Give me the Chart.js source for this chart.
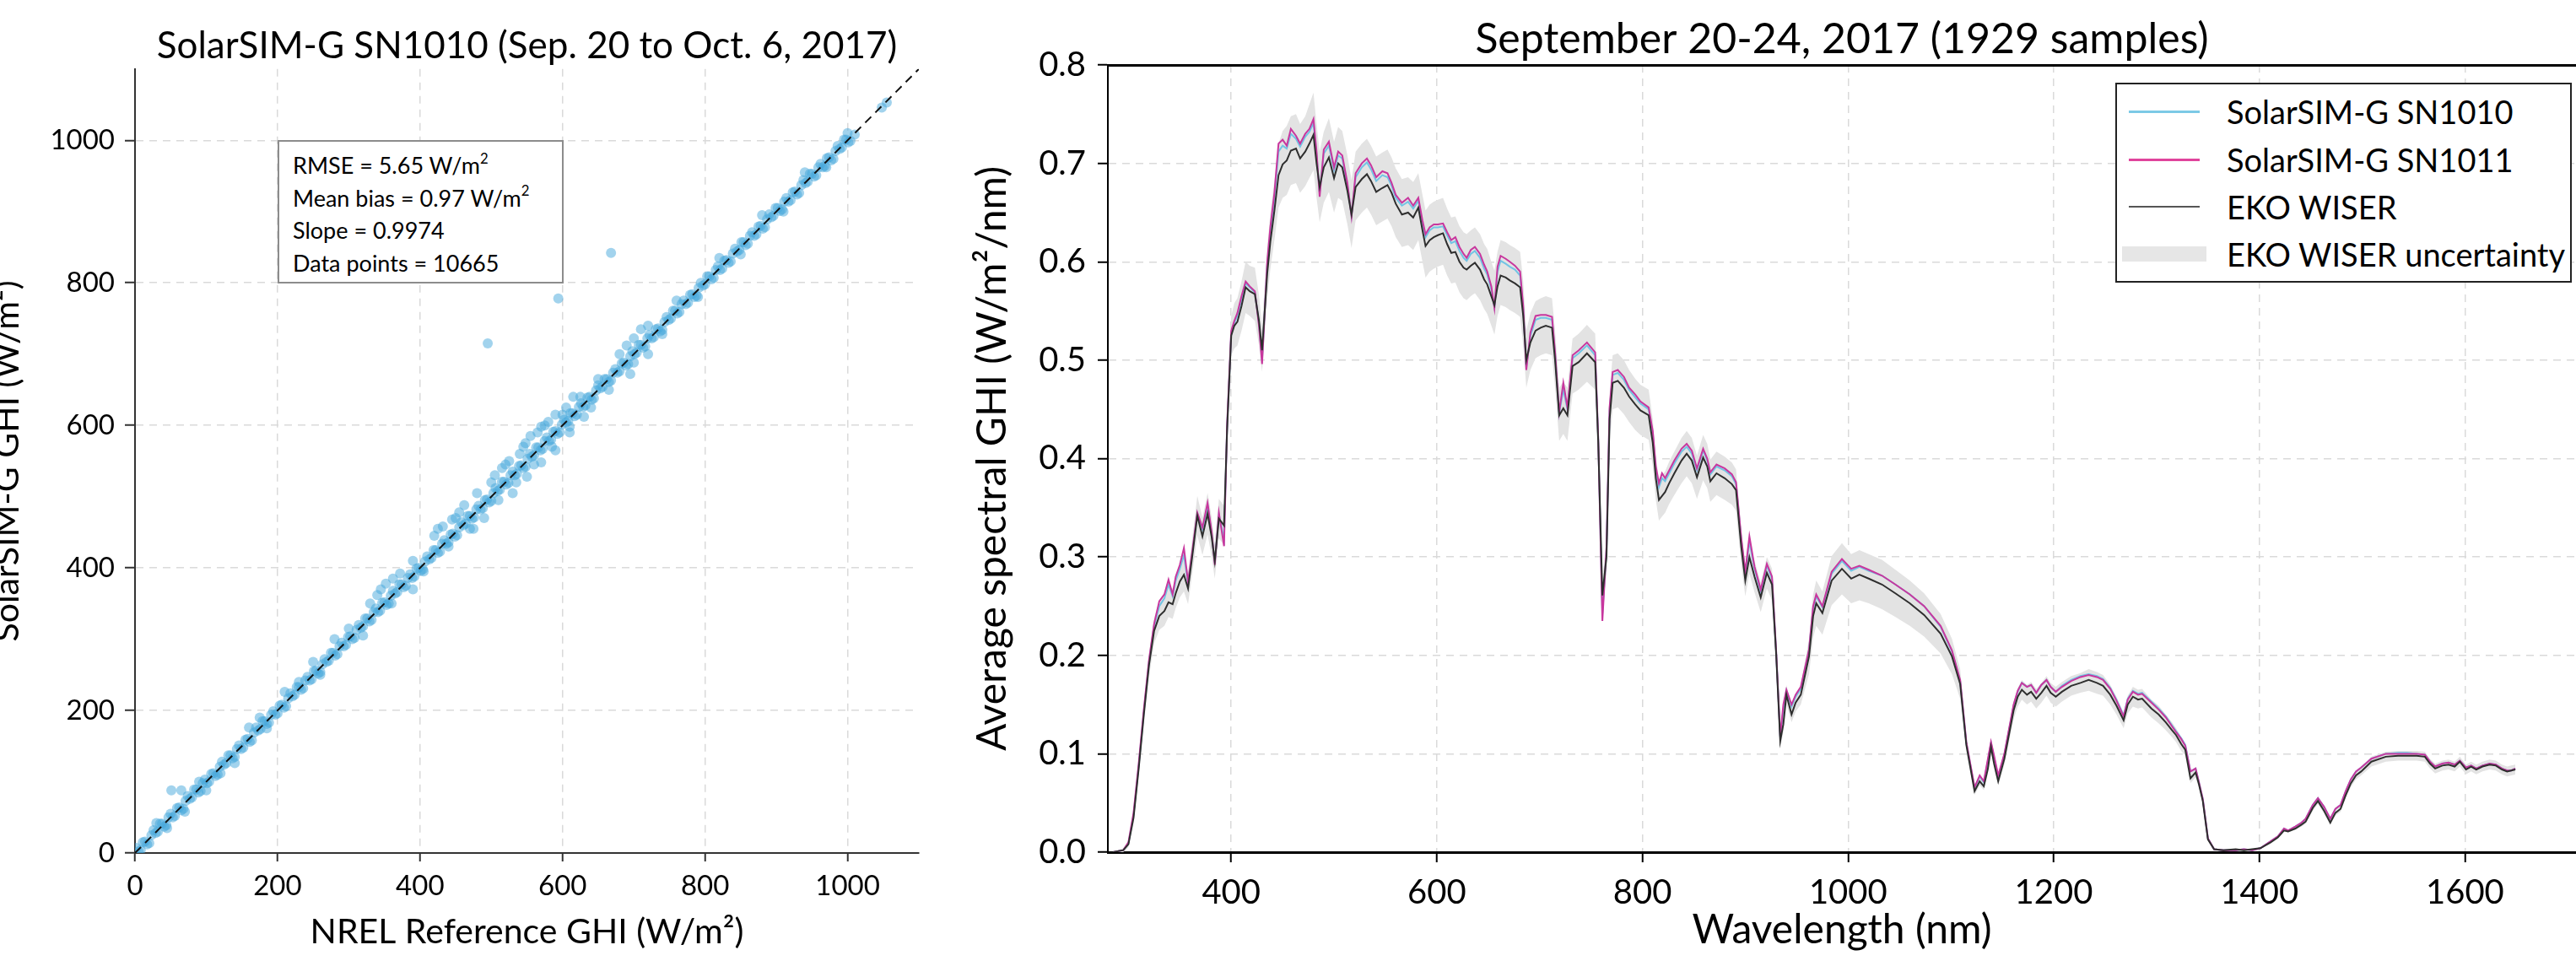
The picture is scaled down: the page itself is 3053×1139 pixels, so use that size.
<!DOCTYPE html>
<html lang="en">
<head>
    <meta charset="UTF-8">
    <title>SolarSIM-G vs NREL / EKO WISER</title>
    <script src="https://cdn.jsdelivr.net/npm/chart.js"></script>
    <style>
        html, body { margin: 0; padding: 0; background: #fff; }
        body { width: 3053px; height: 1139px; position: relative; overflow: hidden; font-family: Lato, "Open Sans", sans-serif; color: #000; }
        #scatterChart { position: absolute; left: -16px; top: 0; }
        #spectrumChart { position: absolute; left: 1100px; top: 0; }
        .stats { position: absolute; left: 329px; top: 166px; width: 339px; height: 170px; box-sizing: border-box;
                 border: 2px solid #8c8c8c; background: #fff; padding: 9px 0 0 16px; font-size: 27px; line-height: 38.5px; white-space: nowrap; }
        .stats sup { font-size: 62%; line-height: 0; position: relative; top: -0.15em; vertical-align: super; }
        .legend { position: absolute; left: 2507px; top: 98px; width: 541px; height: 237px; box-sizing: border-box;
                  border: 2px solid #222; background: #fff; }
        .legend .row { position: absolute; left: 0; height: 50px; display: flex; align-items: center; }
        .legend .swatch { position: absolute; left: 14px; width: 84px; height: 0; }
        .legend .box { position: absolute; left: 6px; width: 100px; height: 18px; background: #e6e6e6; }
        .legend .label { position: absolute; left: 130px; font-size: 38px; line-height: 50px; white-space: nowrap; }
    </style>
</head>
<body>
    <canvas id="scatterChart" width="1116" height="1139"></canvas>
    <canvas id="spectrumChart" width="1953" height="1139"></canvas>

    <!-- stats box in the scatter panel -->
    <div class="stats">
        RMSE = 5.65 W/m<sup>2</sup><br>
        Mean bias = 0.97 W/m<sup>2</sup><br>
        Slope = 0.9974<br>
        Data points = 10665
    </div>

    <!-- legend of the spectrum panel -->
    <div class="legend">
        <div class="row" style="top:7px"><span class="swatch" style="border-top:3px solid #7cc9e6"></span><span class="label">SolarSIM-G SN1010</span></div>
        <div class="row" style="top:64px"><span class="swatch" style="border-top:3px solid #e0449c"></span><span class="label">SolarSIM-G SN1011</span></div>
        <div class="row" style="top:120px"><span class="swatch" style="border-top:2px solid #555"></span><span class="label">EKO WISER</span></div>
        <div class="row" style="top:176px"><span class="box"></span><span class="label">EKO WISER uncertainty</span></div>
    </div>

    <script>
        // ---- scatter panel: NREL reference GHI vs SolarSIM-G SN1010 GHI (W/m2) ----
        const bandRef = [2, 8, 14, 20, 26, 32, 38, 44, 50, 56, 62, 68, 74, 80, 86, 92, 98, 104, 110, 116,
            122, 128, 134, 140, 146, 152, 158, 164, 170, 176, 182, 188, 194, 200, 206, 212, 218, 224, 230, 236,
            242, 248, 254, 260, 266, 272, 278, 284, 290, 296, 302, 308, 314, 320, 326, 332, 338, 344, 350, 356,
            362, 368, 374, 380, 386, 392, 398, 404, 410, 416, 422, 428, 434, 440, 446, 452, 458, 464, 470, 476,
            482, 488, 494, 500, 506, 512, 518, 524, 530, 536, 542, 548, 554, 560, 566, 572, 578, 584, 590, 596,
            602, 608, 614, 620, 626, 632, 638, 644, 650, 656, 662, 668, 674, 680, 686, 692, 698, 704, 710, 716,
            722, 728, 734, 740, 746, 752, 758, 764, 770, 776, 782, 788, 794, 800, 806, 812, 818, 824, 830, 836,
            842, 848, 854, 860, 866, 872, 878, 884, 890, 896, 902, 908, 914, 920, 926, 932, 938, 944, 950, 956,
            962, 968, 974, 980, 986, 992, 998, 1004];
        const bandSim = [7, 4, 16, 14, 32, 30, 41, 39, 55, 52, 64, 62, 80, 78, 89, 87, 103, 100, 112, 110,
            128, 126, 137, 135, 151, 148, 160, 158, 176, 174, 185, 183, 199, 196, 208, 206, 224, 222, 233, 231,
            247, 244, 256, 254, 272, 270, 281, 279, 295, 292, 304, 302, 320, 318, 329, 327, 343, 340, 352, 350,
            368, 366, 377, 375, 391, 388, 400, 398, 416, 414, 425, 423, 439, 436, 448, 446, 464, 462, 473, 471,
            487, 484, 496, 494, 512, 510, 521, 519, 535, 532, 544, 542, 560, 558, 569, 567, 583, 580, 592, 590,
            608, 606, 617, 615, 631, 628, 640, 638, 656, 654, 665, 663, 679, 676, 688, 686, 704, 702, 713, 711,
            727, 724, 736, 734, 752, 750, 761, 759, 775, 772, 784, 782, 800, 798, 809, 807, 823, 820, 832, 830,
            848, 846, 857, 855, 871, 868, 880, 878, 896, 894, 905, 903, 919, 916, 928, 926, 944, 942, 953, 951,
            967, 964, 976, 974, 992, 990, 1001, 999];
        const bandRef2 = [5, 11, 17, 23, 29, 35, 41, 47, 53, 59, 65, 71, 77, 83, 89, 95, 101, 107, 113, 119,
            125, 131, 137, 143, 149, 155, 161, 167, 173, 179, 185, 191, 197, 203, 209, 215, 221, 227, 233, 239,
            245, 251, 257, 263, 269, 275, 281, 287, 293, 299, 305, 311, 317, 323, 329, 335, 341, 347, 353, 359,
            365, 371, 377, 383, 389, 395, 401, 407, 413, 419, 425, 431, 437, 443, 449, 455, 461, 467, 473, 479,
            485, 491, 497, 503, 509, 515, 521, 527, 533, 539, 545, 551, 557, 563, 569, 575, 581, 587, 593, 599,
            605, 611, 617, 623, 629, 635, 641, 647, 653, 659, 665, 671, 677, 683, 689, 695, 701, 707, 713, 719,
            725, 731, 737, 743, 749, 755, 761, 767, 773, 779, 785, 791, 797, 803, 809, 815, 821, 827, 833, 839,
            845, 851, 857, 863, 869, 875, 881, 887, 893, 899, 905, 911, 917, 923, 929, 935, 941, 947, 953, 959,
            965, 971, 977, 983, 989, 995, 1001];
        const bandSim2 = [2, 15, 12, 25, 28, 41, 37, 50, 50, 63, 60, 73, 76, 89, 85, 98, 98, 111, 108, 121,
            124, 137, 133, 146, 146, 159, 156, 169, 172, 185, 181, 194, 194, 207, 204, 217, 220, 233, 229, 242,
            242, 255, 252, 265, 268, 281, 277, 290, 290, 303, 300, 313, 316, 329, 325, 338, 338, 351, 348, 361,
            364, 377, 373, 386, 386, 399, 396, 409, 412, 425, 421, 434, 434, 447, 444, 457, 460, 473, 469, 482,
            482, 495, 492, 505, 508, 521, 517, 530, 530, 543, 540, 553, 556, 569, 565, 578, 578, 591, 588, 601,
            604, 617, 613, 626, 626, 639, 636, 649, 652, 665, 661, 674, 674, 687, 684, 697, 700, 713, 709, 722,
            722, 735, 732, 745, 748, 761, 757, 770, 770, 783, 780, 793, 796, 809, 805, 818, 818, 831, 828, 841,
            844, 857, 853, 866, 866, 879, 876, 889, 892, 905, 901, 914, 914, 927, 924, 937, 940, 953, 949, 962,
            962, 975, 972, 985, 988, 1001, 997];
        const spreadRef = [30, 45, 51, 65, 90, 120, 175, 185, 230, 260, 300, 320, 345, 360, 390, 405, 425, 440, 450, 470,
            480, 495, 500, 510, 520, 535, 545, 560, 575, 585, 594, 600, 610, 625, 640, 650, 665, 668, 680, 700,
            720, 740, 760, 790, 820, 850, 880, 910, 940, 970, 1000, 1010, 1048, 1055,
            330, 340, 352, 362, 372, 420, 432, 445, 455, 462, 505, 515, 525, 540, 548, 555, 565, 570, 580, 590,
            605, 615, 530, 550, 570, 590, 610, 630, 690, 700, 710, 695, 720, 475, 490, 390, 280, 250, 210, 160,
            140, 100, 70];
        const spreadSim = [42, 35, 88, 88, 100, 112, 190, 175, 240, 250, 315, 305, 370, 350, 410, 395, 455, 430, 470, 455,
            505, 715, 520, 495, 545, 520, 570, 545, 600, 570, 778, 615, 598, 640, 625, 665, 650, 842, 700, 688,
            740, 728, 775, 780, 835, 840, 895, 900, 955, 962, 1010, 1008, 1046, 1053,
            350, 362, 378, 385, 392, 445, 458, 468, 478, 488, 530, 540, 550, 560, 575, 585, 590, 598, 605, 615,
            625, 640, 505, 528, 548, 565, 590, 612, 712, 722, 735, 672, 700, 455, 470, 370, 300, 268, 226, 176,
            126, 88, 58];
        const oneToOneRef = [0, 1100];
        const oneToOneSim = [0, 1100];
        const ghiTicks = [0, 200, 400, 600, 800, 1000];

        // ---- spectrum panel: average spectral GHI (W/m2/nm) ----
        const wavelengthTicks = [400, 600, 800, 1000, 1200, 1400, 1600];
        const spectralTicks = [0, 0.1, 0.2, 0.3, 0.4, 0.5, 0.6, 0.7, 0.8];
        const wavelength = [285, 295, 300, 305, 310, 315, 320, 325, 330, 335,
            339, 343, 346, 350, 354, 358, 362, 367, 372, 377,
            381, 384, 388, 393, 396, 400, 403, 406, 410, 414,
            418, 423, 427, 430, 435, 438, 442, 446, 450, 454,
            458, 463, 467, 472, 476, 480, 483, 486, 490, 495,
            500, 504, 508, 513, 517, 521, 527, 532, 536, 541,
            547, 552, 556, 560, 566, 572, 577, 582, 586, 589,
            593, 597, 601, 606, 610, 614, 618, 622, 626, 629,
            633, 637, 642, 646, 649, 653, 656, 659, 662, 667,
            671, 676, 681, 684, 687, 691, 696, 701, 706, 712,
            715, 719, 723, 727, 732, 738, 746, 754, 757, 761,
            765, 768, 771, 776, 782, 787, 793, 798, 806, 810,
            813, 816, 819, 822, 826, 831, 838, 843, 848, 853,
            859, 863, 866, 872, 880, 887, 891, 896, 900, 904,
            909, 915, 921, 926, 930, 934, 937, 940, 945, 949,
            954, 962, 966, 969, 975, 984, 994, 1003, 1011, 1020,
            1033, 1046, 1060, 1074, 1090, 1101, 1109, 1115, 1123, 1128,
            1132, 1136, 1139, 1142, 1146, 1152, 1161, 1165, 1169, 1174,
            1178, 1183, 1188, 1193, 1197, 1202, 1208, 1217, 1226, 1234,
            1242, 1248, 1255, 1261, 1268, 1272, 1277, 1282, 1286, 1295,
            1302, 1309, 1315, 1319, 1324, 1328, 1333, 1338, 1341, 1345,
            1350, 1356, 1365, 1377, 1385, 1393, 1401, 1411, 1418, 1424,
            1428, 1435, 1441, 1445, 1452, 1457, 1463, 1469, 1474, 1479,
            1484, 1489, 1494, 1499, 1509, 1523, 1535, 1544, 1553, 1561,
            1566, 1571, 1578, 1584, 1590, 1595, 1601, 1606, 1611, 1617,
            1624, 1630, 1636, 1641, 1645, 1649];
        const ekoWiser = [0.000, 0.002, 0.008, 0.035, 0.085, 0.140, 0.190, 0.225, 0.240, 0.245,
            0.254, 0.252, 0.263, 0.275, 0.282, 0.268, 0.300, 0.342, 0.321, 0.344,
            0.320, 0.296, 0.339, 0.332, 0.430, 0.525, 0.535, 0.539, 0.555, 0.574,
            0.570, 0.567, 0.540, 0.510, 0.588, 0.620, 0.652, 0.688, 0.699, 0.703,
            0.713, 0.715, 0.705, 0.712, 0.720, 0.729, 0.700, 0.676, 0.696, 0.706,
            0.685, 0.700, 0.696, 0.672, 0.648, 0.676, 0.684, 0.689, 0.682, 0.671,
            0.675, 0.678, 0.670, 0.659, 0.648, 0.650, 0.645, 0.655, 0.632, 0.616,
            0.622, 0.625, 0.627, 0.629, 0.618, 0.609, 0.610, 0.600, 0.594, 0.592,
            0.596, 0.599, 0.592, 0.582, 0.577, 0.565, 0.556, 0.575, 0.586, 0.584,
            0.581, 0.578, 0.574, 0.545, 0.500, 0.518, 0.530, 0.533, 0.535, 0.533,
            0.500, 0.444, 0.451, 0.444, 0.494, 0.498, 0.507, 0.498, 0.416, 0.261,
            0.300, 0.440, 0.477, 0.479, 0.472, 0.463, 0.455, 0.449, 0.444, 0.416,
            0.380, 0.358, 0.362, 0.366, 0.375, 0.385, 0.398, 0.405, 0.398, 0.381,
            0.401, 0.392, 0.377, 0.385, 0.380, 0.374, 0.368, 0.311, 0.276, 0.300,
            0.280, 0.259, 0.284, 0.272, 0.202, 0.113, 0.130, 0.160, 0.140, 0.152,
            0.160, 0.199, 0.240, 0.253, 0.243, 0.276, 0.288, 0.278, 0.282, 0.278,
            0.272, 0.263, 0.253, 0.241, 0.222, 0.199, 0.171, 0.109, 0.062, 0.072,
            0.067, 0.085, 0.107, 0.090, 0.072, 0.095, 0.144, 0.158, 0.165, 0.160,
            0.163, 0.156, 0.162, 0.169, 0.162, 0.158, 0.163, 0.169, 0.172, 0.175,
            0.172, 0.169, 0.160, 0.149, 0.134, 0.150, 0.158, 0.155, 0.156, 0.146,
            0.140, 0.132, 0.124, 0.119, 0.110, 0.104, 0.075, 0.081, 0.070, 0.052,
            0.013, 0.003, 0.002, 0.003, 0.002, 0.003, 0.004, 0.010, 0.015, 0.022,
            0.021, 0.024, 0.028, 0.031, 0.045, 0.052, 0.042, 0.030, 0.040, 0.044,
            0.058, 0.070, 0.078, 0.082, 0.092, 0.097, 0.098, 0.098, 0.098, 0.097,
            0.090, 0.085, 0.088, 0.089, 0.087, 0.092, 0.084, 0.087, 0.084, 0.087,
            0.089, 0.088, 0.084, 0.082, 0.083, 0.084];
        const sn1011 = [0.000, 0.002, 0.010, 0.040, 0.090, 0.145, 0.195, 0.232, 0.255, 0.262,
            0.277, 0.262, 0.280, 0.292, 0.309, 0.275, 0.305, 0.345, 0.330, 0.355,
            0.325, 0.292, 0.345, 0.311, 0.435, 0.530, 0.540, 0.548, 0.565, 0.580,
            0.575, 0.570, 0.535, 0.496, 0.600, 0.635, 0.670, 0.720, 0.724, 0.718,
            0.735, 0.728, 0.720, 0.730, 0.735, 0.745, 0.712, 0.666, 0.714, 0.722,
            0.696, 0.712, 0.708, 0.680, 0.646, 0.690, 0.700, 0.705, 0.698, 0.686,
            0.692, 0.690, 0.680, 0.668, 0.660, 0.665, 0.657, 0.665, 0.642, 0.628,
            0.635, 0.638, 0.638, 0.639, 0.630, 0.622, 0.625, 0.615, 0.608, 0.604,
            0.612, 0.615, 0.608, 0.597, 0.590, 0.575, 0.553, 0.595, 0.606, 0.603,
            0.600, 0.596, 0.590, 0.555, 0.490, 0.528, 0.545, 0.546, 0.546, 0.544,
            0.508, 0.447, 0.477, 0.452, 0.505, 0.510, 0.518, 0.508, 0.420, 0.235,
            0.310, 0.452, 0.488, 0.490, 0.483, 0.472, 0.465, 0.458, 0.452, 0.428,
            0.392, 0.375, 0.385, 0.380, 0.388, 0.398, 0.410, 0.415, 0.408, 0.390,
            0.410, 0.400, 0.386, 0.394, 0.390, 0.384, 0.376, 0.320, 0.285, 0.321,
            0.290, 0.267, 0.293, 0.280, 0.205, 0.118, 0.150, 0.165, 0.150, 0.160,
            0.168, 0.206, 0.250, 0.262, 0.250, 0.285, 0.298, 0.288, 0.291, 0.287,
            0.281, 0.272, 0.262, 0.250, 0.230, 0.205, 0.175, 0.112, 0.066, 0.078,
            0.072, 0.095, 0.112, 0.098, 0.078, 0.100, 0.150, 0.164, 0.172, 0.168,
            0.170, 0.162, 0.170, 0.175, 0.168, 0.163, 0.168, 0.174, 0.178, 0.180,
            0.178, 0.175, 0.166, 0.154, 0.138, 0.155, 0.163, 0.160, 0.161, 0.152,
            0.145, 0.137, 0.128, 0.122, 0.115, 0.108, 0.082, 0.085, 0.072, 0.054,
            0.014, 0.003, 0.002, 0.002, 0.003, 0.002, 0.004, 0.011, 0.016, 0.024,
            0.022, 0.026, 0.030, 0.034, 0.048, 0.055, 0.046, 0.034, 0.044, 0.048,
            0.062, 0.074, 0.082, 0.086, 0.095, 0.100, 0.100, 0.100, 0.100, 0.099,
            0.092, 0.087, 0.090, 0.091, 0.089, 0.093, 0.086, 0.088, 0.085, 0.088,
            0.090, 0.089, 0.085, 0.083, 0.083, 0.085];
        const sn1010 = [0.000, 0.002, 0.009, 0.038, 0.088, 0.143, 0.193, 0.230, 0.250, 0.258,
            0.272, 0.260, 0.276, 0.288, 0.302, 0.273, 0.303, 0.344, 0.328, 0.352,
            0.323, 0.294, 0.343, 0.318, 0.433, 0.528, 0.538, 0.545, 0.562, 0.578,
            0.574, 0.569, 0.537, 0.500, 0.597, 0.630, 0.665, 0.712, 0.718, 0.715,
            0.730, 0.725, 0.717, 0.727, 0.732, 0.741, 0.709, 0.670, 0.710, 0.718,
            0.693, 0.708, 0.705, 0.678, 0.647, 0.686, 0.696, 0.701, 0.694, 0.682,
            0.688, 0.686, 0.677, 0.665, 0.657, 0.661, 0.654, 0.662, 0.639, 0.625,
            0.632, 0.635, 0.635, 0.636, 0.627, 0.619, 0.621, 0.611, 0.604, 0.601,
            0.608, 0.611, 0.604, 0.593, 0.587, 0.572, 0.554, 0.590, 0.601, 0.598,
            0.595, 0.592, 0.586, 0.552, 0.493, 0.525, 0.541, 0.543, 0.543, 0.541,
            0.506, 0.446, 0.470, 0.450, 0.502, 0.507, 0.515, 0.505, 0.419, 0.242,
            0.307, 0.449, 0.485, 0.487, 0.480, 0.470, 0.462, 0.456, 0.450, 0.425,
            0.389, 0.371, 0.380, 0.377, 0.385, 0.395, 0.407, 0.412, 0.405, 0.388,
            0.408, 0.398, 0.384, 0.392, 0.388, 0.382, 0.374, 0.318, 0.283, 0.316,
            0.288, 0.265, 0.291, 0.278, 0.204, 0.117, 0.145, 0.164, 0.148, 0.158,
            0.166, 0.205, 0.248, 0.260, 0.249, 0.283, 0.296, 0.286, 0.290, 0.286,
            0.281, 0.272, 0.262, 0.250, 0.229, 0.204, 0.174, 0.111, 0.065, 0.077,
            0.071, 0.093, 0.111, 0.096, 0.077, 0.099, 0.149, 0.163, 0.172, 0.168,
            0.170, 0.162, 0.170, 0.175, 0.168, 0.163, 0.169, 0.175, 0.179, 0.181,
            0.179, 0.176, 0.167, 0.155, 0.139, 0.156, 0.164, 0.161, 0.162, 0.153,
            0.146, 0.138, 0.129, 0.123, 0.116, 0.109, 0.082, 0.085, 0.072, 0.054,
            0.014, 0.003, 0.002, 0.002, 0.003, 0.002, 0.004, 0.011, 0.016, 0.024,
            0.022, 0.026, 0.030, 0.034, 0.048, 0.055, 0.046, 0.034, 0.044, 0.048,
            0.062, 0.074, 0.082, 0.086, 0.095, 0.100, 0.101, 0.101, 0.100, 0.099,
            0.092, 0.087, 0.090, 0.091, 0.089, 0.093, 0.086, 0.088, 0.085, 0.088,
            0.090, 0.089, 0.085, 0.083, 0.083, 0.085];
        const ekoLow = [0.000, 0.000, 0.005, 0.030, 0.078, 0.130, 0.178, 0.212, 0.226, 0.230,
            0.239, 0.237, 0.248, 0.259, 0.265, 0.252, 0.282, 0.322, 0.302, 0.323,
            0.300, 0.278, 0.319, 0.312, 0.410, 0.505, 0.512, 0.515, 0.530, 0.548,
            0.545, 0.540, 0.515, 0.488, 0.562, 0.592, 0.622, 0.655, 0.665, 0.668,
            0.678, 0.680, 0.670, 0.677, 0.685, 0.693, 0.665, 0.640, 0.660, 0.671,
            0.650, 0.665, 0.662, 0.638, 0.614, 0.642, 0.650, 0.655, 0.648, 0.637,
            0.641, 0.644, 0.636, 0.625, 0.615, 0.617, 0.612, 0.622, 0.600, 0.584,
            0.590, 0.593, 0.595, 0.597, 0.586, 0.578, 0.579, 0.569, 0.563, 0.561,
            0.565, 0.568, 0.561, 0.552, 0.547, 0.535, 0.526, 0.545, 0.556, 0.554,
            0.551, 0.548, 0.544, 0.515, 0.472, 0.490, 0.502, 0.505, 0.507, 0.505,
            0.472, 0.418, 0.425, 0.418, 0.466, 0.470, 0.478, 0.470, 0.392, 0.246,
            0.283, 0.415, 0.450, 0.452, 0.445, 0.437, 0.429, 0.424, 0.419, 0.392,
            0.358, 0.337, 0.341, 0.345, 0.354, 0.363, 0.375, 0.382, 0.375, 0.359,
            0.378, 0.370, 0.356, 0.363, 0.358, 0.353, 0.347, 0.293, 0.260, 0.283,
            0.264, 0.244, 0.268, 0.256, 0.190, 0.105, 0.122, 0.150, 0.132, 0.143,
            0.150, 0.181, 0.218, 0.230, 0.221, 0.251, 0.262, 0.253, 0.256, 0.253,
            0.247, 0.239, 0.230, 0.219, 0.202, 0.181, 0.156, 0.102, 0.058, 0.068,
            0.063, 0.080, 0.100, 0.085, 0.068, 0.089, 0.135, 0.148, 0.155, 0.150,
            0.153, 0.146, 0.152, 0.159, 0.152, 0.148, 0.153, 0.159, 0.162, 0.164,
            0.161, 0.159, 0.150, 0.140, 0.126, 0.141, 0.148, 0.146, 0.147, 0.137,
            0.131, 0.124, 0.117, 0.112, 0.103, 0.098, 0.070, 0.076, 0.066, 0.049,
            0.012, 0.002, 0.001, 0.002, 0.001, 0.002, 0.003, 0.009, 0.014, 0.021,
            0.020, 0.023, 0.026, 0.029, 0.042, 0.049, 0.039, 0.028, 0.037, 0.041,
            0.055, 0.066, 0.074, 0.078, 0.087, 0.092, 0.093, 0.093, 0.093, 0.092,
            0.085, 0.080, 0.083, 0.084, 0.082, 0.087, 0.079, 0.082, 0.079, 0.082,
            0.084, 0.083, 0.079, 0.077, 0.078, 0.079];
        const ekoHigh = [0.000, 0.004, 0.012, 0.042, 0.093, 0.150, 0.202, 0.238, 0.255, 0.260,
            0.270, 0.268, 0.279, 0.292, 0.300, 0.285, 0.318, 0.362, 0.340, 0.365,
            0.340, 0.314, 0.359, 0.352, 0.450, 0.545, 0.558, 0.563, 0.580, 0.600,
            0.596, 0.594, 0.566, 0.535, 0.615, 0.648, 0.683, 0.720, 0.733, 0.738,
            0.748, 0.750, 0.740, 0.748, 0.760, 0.772, 0.740, 0.712, 0.732, 0.746,
            0.722, 0.737, 0.733, 0.708, 0.683, 0.712, 0.720, 0.725, 0.718, 0.707,
            0.711, 0.714, 0.706, 0.695, 0.684, 0.686, 0.681, 0.690, 0.668, 0.652,
            0.658, 0.661, 0.663, 0.665, 0.654, 0.645, 0.646, 0.636, 0.630, 0.628,
            0.632, 0.635, 0.628, 0.618, 0.613, 0.600, 0.591, 0.610, 0.622, 0.620,
            0.617, 0.614, 0.610, 0.580, 0.530, 0.548, 0.560, 0.563, 0.565, 0.563,
            0.530, 0.472, 0.478, 0.472, 0.522, 0.527, 0.536, 0.527, 0.442, 0.277,
            0.318, 0.466, 0.505, 0.507, 0.500, 0.490, 0.481, 0.475, 0.470, 0.440,
            0.402, 0.379, 0.383, 0.387, 0.397, 0.407, 0.421, 0.428, 0.421, 0.403,
            0.424, 0.415, 0.399, 0.407, 0.402, 0.396, 0.389, 0.329, 0.292, 0.317,
            0.296, 0.274, 0.300, 0.288, 0.214, 0.121, 0.138, 0.170, 0.148, 0.161,
            0.170, 0.217, 0.262, 0.276, 0.265, 0.301, 0.314, 0.303, 0.307, 0.303,
            0.297, 0.287, 0.276, 0.263, 0.242, 0.217, 0.186, 0.116, 0.066, 0.077,
            0.071, 0.090, 0.113, 0.095, 0.077, 0.101, 0.153, 0.167, 0.175, 0.170,
            0.173, 0.166, 0.172, 0.179, 0.172, 0.168, 0.173, 0.179, 0.182, 0.186,
            0.183, 0.180, 0.170, 0.158, 0.142, 0.159, 0.168, 0.165, 0.166, 0.155,
            0.149, 0.140, 0.132, 0.126, 0.117, 0.110, 0.080, 0.086, 0.074, 0.055,
            0.014, 0.003, 0.003, 0.003, 0.003, 0.003, 0.004, 0.011, 0.016, 0.023,
            0.022, 0.025, 0.030, 0.033, 0.048, 0.055, 0.045, 0.032, 0.042, 0.047,
            0.061, 0.074, 0.082, 0.086, 0.097, 0.102, 0.103, 0.103, 0.103, 0.102,
            0.095, 0.090, 0.093, 0.094, 0.092, 0.097, 0.089, 0.092, 0.089, 0.092,
            0.094, 0.093, 0.089, 0.087, 0.088, 0.089];

        Chart.defaults.font.family = 'Lato, "Open Sans", sans-serif';
        Chart.defaults.color = '#000';

        const gridColor = '#dadada';
        const gridDash = [9, 7];

        const scatterPoints = bandRef.map((x, i) => ({ x: x, y: bandSim[i] }))
            .concat(bandRef2.map((x, i) => ({ x: x, y: bandSim2[i] })))
            .concat(spreadRef.map((x, i) => ({ x: x, y: spreadSim[i] })));
        const diagLine = oneToOneRef.map((x, i) => ({ x: x, y: oneToOneSim[i] }));

        new Chart(document.getElementById('scatterChart'), {
            type: 'scatter',
            data: {
                datasets: [{
                    label: 'SolarSIM-G SN1010',
                    data: scatterPoints,
                    pointRadius: 6,
                    pointBackgroundColor: 'rgba(70, 168, 220, 0.5)',
                    pointBorderWidth: 0,
                    order: 2
                }, {
                    type: 'line',
                    label: '1:1',
                    data: diagLine,
                    borderColor: '#111',
                    borderWidth: 2,
                    borderDash: [10, 7],
                    pointRadius: 0,
                    fill: false,
                    order: 1
                }]
            },
            options: {
                responsive: false,
                animation: false,
                devicePixelRatio: 1,
                events: [],
                layout: { padding: { left: 0, right: 11, top: 0, bottom: 0 } },
                plugins: {
                    legend: { display: false },
                    tooltip: { enabled: false },
                    title: {
                        display: true,
                        fullSize: false,
                        text: 'SolarSIM-G SN1010 (Sep. 20 to Oct. 6, 2017)',
                        font: { size: 44, weight: 'normal' },
                        color: '#000',
                        padding: { top: 28, bottom: 1 }
                    }
                },
                scales: {
                    x: {
                        type: 'linear', min: 0, max: 1100,
                        afterBuildTicks: s => { s.ticks = ghiTicks.map(v => ({ value: v })); },
                        ticks: { padding: 10, font: { size: 33 }, color: '#000', callback: v => String(v) },
                        grid: { color: gridColor, lineWidth: 1.5, tickLength: 10, tickColor: '#333', tickWidth: 2 },
                        border: { color: '#333', width: 2, dash: gridDash },
                        title: { display: true, text: 'NREL Reference GHI (W/m²)', font: { size: 41 }, color: '#000', padding: { top: 0, bottom: 10 } },
                        afterFit: s => { s.height = 128; }
                    },
                    y: {
                        type: 'linear', min: 0, max: 1100,
                        afterBuildTicks: s => { s.ticks = ghiTicks.map(v => ({ value: v })); },
                        ticks: { padding: 12, font: { size: 33 }, color: '#000', callback: v => String(v) },
                        grid: { color: gridColor, lineWidth: 1.5, tickLength: 12, tickColor: '#333', tickWidth: 2 },
                        border: { color: '#333', width: 2, dash: gridDash },
                        title: { display: true, text: 'SolarSIM-G GHI (W/m²)', font: { size: 41 }, color: '#000', padding: { top: 0, bottom: 0 } },
                        afterFit: s => { s.width = 176; }
                    }
                }
            }
        });

        const toXY = vals => wavelength.map((w, i) => ({ x: w, y: vals[i] }));

        // order: kleinere Zahl liegt oben
        new Chart(document.getElementById('spectrumChart'), {
            type: 'line',
            data: {
                datasets: [{
                    label: 'EKO WISER uncertainty low',
                    data: toXY(ekoLow),
                    borderWidth: 0,
                    borderColor: 'rgba(0,0,0,0)',
                    pointRadius: 0,
                    fill: false,
                    order: 10
                }, {
                    label: 'EKO WISER uncertainty',
                    data: toXY(ekoHigh),
                    borderWidth: 0,
                    borderColor: 'rgba(0,0,0,0)',
                    backgroundColor: '#e3e3e3',
                    pointRadius: 0,
                    fill: '-1',
                    order: 9
                }, {
                    label: 'SolarSIM-G SN1010',
                    data: toXY(sn1010),
                    borderColor: '#72c4e4',
                    borderWidth: 2,
                    pointRadius: 0,
                    fill: false,
                    order: 3
                }, {
                    label: 'SolarSIM-G SN1011',
                    data: toXY(sn1011),
                    borderColor: '#c8379e',
                    borderWidth: 2,
                    pointRadius: 0,
                    fill: false,
                    order: 2
                }, {
                    label: 'EKO WISER',
                    data: toXY(ekoWiser),
                    borderColor: '#2e2e2e',
                    borderWidth: 2,
                    pointRadius: 0,
                    fill: false,
                    order: 1
                }]
            },
            options: {
                responsive: false,
                animation: false,
                devicePixelRatio: 1,
                events: [],
                layout: { padding: 0 },
                plugins: {
                    legend: { display: false },
                    tooltip: { enabled: false },
                    title: {
                        display: true,
                        fullSize: false,
                        text: 'September 20-24, 2017 (1929 samples)',
                        font: { size: 50, weight: 'normal' },
                        color: '#000',
                        padding: { top: 17, bottom: 0 }
                    }
                },
                scales: {
                    x: {
                        type: 'linear', min: 280, max: 1708,
                        afterBuildTicks: s => { s.ticks = wavelengthTicks.map(v => ({ value: v })); },
                        ticks: { padding: 12, font: { size: 40 }, color: '#000', callback: v => String(v) },
                        grid: { color: gridColor, lineWidth: 1.5, tickLength: 12, tickColor: '#000', tickWidth: 2 },
                        border: { color: '#000', width: 3, dash: gridDash },
                        title: { display: true, text: 'Wavelength (nm)', font: { size: 48 }, color: '#000', padding: { top: 0, bottom: 8 } },
                        afterFit: s => { s.height = 129; }
                    },
                    xTop: {
                        type: 'linear', position: 'top', min: 280, max: 1708,
                        ticks: { display: false },
                        grid: { display: false, drawTicks: false },
                        border: { color: '#000', width: 3 },
                        afterFit: s => { s.height = 0; }
                    },
                    y: {
                        type: 'linear', min: 0, max: 0.8,
                        afterBuildTicks: s => { s.ticks = spectralTicks.map(v => ({ value: v })); },
                        ticks: { padding: 14, font: { size: 40 }, color: '#000', callback: v => v.toFixed(1) },
                        grid: { color: gridColor, lineWidth: 1.5, tickLength: 12, tickColor: '#000', tickWidth: 2 },
                        border: { color: '#000', width: 2, dash: gridDash },
                        title: { display: true, text: 'Average spectral GHI (W/m²/nm)', font: { size: 48 }, color: '#000', padding: { top: 48, bottom: 0 } },
                        afterFit: s => { s.width = 213; }
                    }
                }
            }
        });
    </script>
</body>
</html>
